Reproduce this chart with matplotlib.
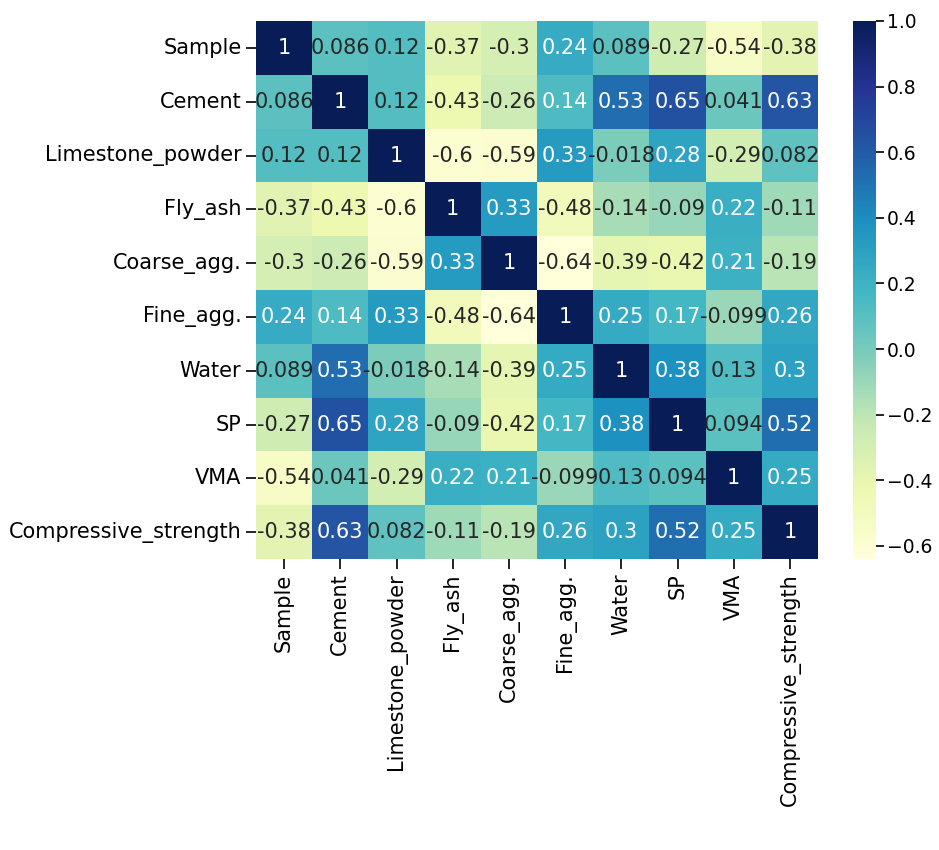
import numpy as np
import matplotlib
matplotlib.use("Agg")
import matplotlib.pyplot as plt
import seaborn as sns

labels = ["Sample", "Cement", "Limestone_powder", "Fly_ash", "Coarse_agg.",
          "Fine_agg.", "Water", "SP", "VMA", "Compressive_strength"]

r_sample = [1, 0.086, 0.12, -0.37, -0.3, 0.24, 0.089, -0.27, -0.54, -0.38]
r_cement = [0.086, 1, 0.12, -0.43, -0.26, 0.14, 0.53, 0.65, 0.041, 0.63]
r_lime = [0.12, 0.12, 1, -0.6, -0.59, 0.33, -0.018, 0.28, -0.29, 0.082]
r_flyash = [-0.37, -0.43, -0.6, 1, 0.33, -0.48, -0.14, -0.09, 0.22, -0.11]
r_coarse = [-0.3, -0.26, -0.59, 0.33, 1, -0.64, -0.39, -0.42, 0.21, -0.19]
r_fine = [0.24, 0.14, 0.33, -0.48, -0.64, 1, 0.25, 0.17, -0.099, 0.26]
r_water = [0.089, 0.53, -0.018, -0.14, -0.39, 0.25, 1, 0.38, 0.13, 0.3]
r_sp = [-0.27, 0.65, 0.28, -0.09, -0.42, 0.17, 0.38, 1, 0.094, 0.52]
r_vma = [-0.54, 0.041, -0.29, 0.22, 0.21, -0.099, 0.13, 0.094, 1, 0.25]
r_cs = [-0.38, 0.63, 0.082, -0.11, -0.19, 0.26, 0.3, 0.52, 0.25, 1]

corr = np.array([r_sample, r_cement, r_lime, r_flyash, r_coarse,
                 r_fine, r_water, r_sp, r_vma, r_cs])

fs = 15
plt.rcParams["font.family"] = ["DejaVu Sans"]
plt.rcParams["font.size"] = fs
plt.rcParams["xtick.major.size"] = 7
plt.rcParams["ytick.major.size"] = 7
plt.rcParams["xtick.major.width"] = 1.2
plt.rcParams["ytick.major.width"] = 1.2

fig = plt.figure(figsize=(9.39, 8.5), dpi=100)
ax = fig.add_axes([256/939, 1-559/850, (818-256)/939, (559-21)/850])
cax = fig.add_axes([853/939, 1-559/850, 23/939, (559-21)/850])

sns.heatmap(corr, annot=True, cmap="YlGnBu", vmin=corr.min(), vmax=1,
            xticklabels=labels, yticklabels=labels, ax=ax, cbar_ax=cax,
            annot_kws={"size": fs})

# text colour as in the reference: white on darker cells
for t in ax.texts:
    v = float(t.get_text())
    t.set_color("white" if v >= 0.135 else "#262626")

ax.tick_params(axis="x", labelsize=fs, rotation=90)
ax.tick_params(axis="y", labelsize=fs, rotation=0)
cax.tick_params(labelsize=13.5, pad=2, length=6)
cax.set_yticks([-0.6, -0.4, -0.2, 0.0, 0.2, 0.4, 0.6, 0.8, 1.0])

fig.savefig("out.png", dpi=100)
